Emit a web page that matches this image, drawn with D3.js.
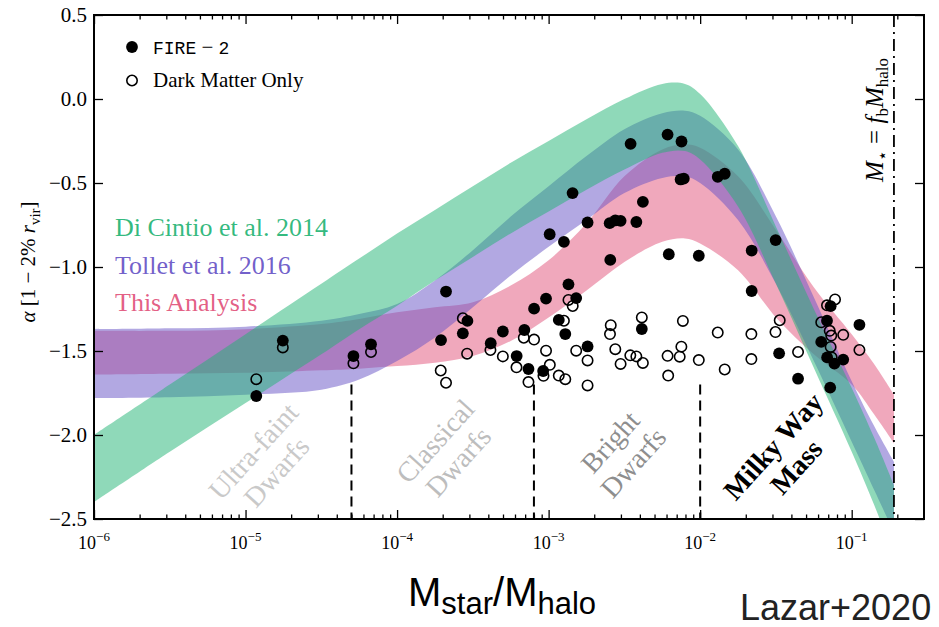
<!DOCTYPE html>
<html>
<head>
<meta charset="utf-8">
<script src="https://cdn.jsdelivr.net/npm/d3@7"></script>
<style>
  body { margin: 0; background: #fff; }
  svg { display: block; font-family: "Liberation Serif", "Times New Roman", serif; }
</style>
</head>
<body>
<svg id="chart" width="939" height="627"></svg>
<script>
// ---- axis settings -------------------------------------------------------
const xDomain = [1e-6, 0.3];
const yDomain = [-2.5, 0.5];
const xMajorTicks = [1e-6, 1e-5, 1e-4, 1e-3, 1e-2, 1e-1];
const xMajorExponents = ["−6", "−5", "−4", "−3", "−2", "−1"];
const yTickValues = [-2.5, -2.0, -1.5, -1.0, -0.5, 0.0, 0.5];
const yTickLabels = ["−2.5", "−2.0", "−1.5", "−1.0", "−0.5", "0.0", "0.5"];

// ---- model bands, sampled in log10(M*/Mhalo) ------------------------------
const bandLogX =     [-6.0, -5.5, -5.0, -4.5, -4.25, -4.0, -3.75, -3.5, -3.25, -3.0, -2.75, -2.5, -2.25, -2.1, -2.0, -1.75, -1.5, -1.25, -1.0, -0.85, -0.721];
const diCintioHigh = [-2.00, -1.70, -1.40, -1.10, -0.95, -0.80, -0.66, -0.52, -0.38, -0.25, -0.12, 0.00, 0.09, 0.09, 0.03, -0.28, -0.76, -1.25, -1.72, -2.02, -2.30];
const diCintioLow  = [-2.40, -2.10, -1.81, -1.52, -1.37, -1.23, -1.08, -0.94, -0.80, -0.67, -0.54, -0.42, -0.32, -0.31, -0.36, -0.64, -1.10, -1.60, -2.10, -2.42, -2.72];
const tolletHigh   = [-1.37, -1.365, -1.355, -1.32, -1.28, -1.22, -1.08, -0.90, -0.70, -0.52, -0.34, -0.18, -0.085, -0.07, -0.10, -0.30, -0.70, -1.18, -1.68, -1.95, -2.16];
const tolletLow    = [-1.78, -1.775, -1.76, -1.73, -1.67, -1.56, -1.42, -1.24, -1.05, -0.88, -0.72, -0.56, -0.47, -0.46, -0.50, -0.72, -1.10, -1.56, -2.04, -2.33, -2.58];
const thisHigh     = [-1.38, -1.38, -1.37, -1.34, -1.31, -1.27, -1.24, -1.21, -1.11, -0.96, -0.74, -0.46, -0.30, -0.27, -0.29, -0.46, -0.78, -1.12, -1.40, -1.58, -1.76];
const thisLow      = [-1.64, -1.635, -1.63, -1.615, -1.605, -1.59, -1.57, -1.53, -1.44, -1.30, -1.14, -0.97, -0.85, -0.83, -0.86, -1.02, -1.30, -1.52, -1.70, -1.88, -2.05];

const bandNames  = ["Di Cintio et al. 2014", "Tollet et al. 2016", "This Analysis"];
const bandColors = ["#1fb373", "#6551c5", "#e15179"];

// ---- simulated haloes: log10(M*/Mhalo) and inner slope alpha ----------------
const fireLogRatio = [-4.929, -4.754, -4.288, -4.172, -3.677, -3.710, -3.566, -3.536, -3.382, -3.302,
  -3.211, -3.160, -3.133, -3.096, -3.036, -3.017, -2.993, -2.933, -2.899, -2.890,
  -2.869, -2.818, -2.842, -2.743, -2.743, -2.593, -2.597, -2.560, -2.525, -2.421,
  -2.378, -2.385, -2.459, -2.215, -2.123, -2.129, -2.108, -2.207, -2.009, -1.884,
  -1.838, -1.660, -1.660, -1.502, -1.479, -1.354, -1.139, -1.163, -1.201, -1.162,
  -1.114, -1.056, -1.142, -0.949];
const fireAlpha = [-1.768, -1.438, -1.530, -1.460, -1.146, -1.435, -1.395, -1.321, -1.454, -1.384,
  -1.530, -1.375, -1.607, -1.248, -1.619, -1.188, -0.805, -1.315, -0.850, -1.399,
  -1.103, -1.185, -0.560, -1.473, -0.735, -0.958, -0.739, -0.723, -0.725, -0.732,
  -0.612, -1.369, -0.267, -0.212, -0.253, -0.479, -0.474, -0.924, -0.933, -0.463,
  -0.445, -0.902, -1.143, -0.840, -1.514, -1.665, -1.233, -1.320, -1.446, -1.538,
  -1.575, -1.551, -1.718, -1.344];

const dmoLogRatio = [-4.929, -4.754, -4.288, -4.172, -3.712, -3.677, -3.566, -3.538, -3.384, -3.302,
  -3.212, -3.164, -3.133, -3.096, -3.034, -3.017, -2.992, -2.933, -2.890, -2.899,
  -2.869, -2.841, -2.818, -2.743, -2.743, -2.590, -2.595, -2.560, -2.525, -2.461,
  -2.421, -2.378, -2.385, -2.215, -2.211, -2.135, -2.124, -2.114, -2.009, -1.884,
  -1.838, -1.662, -1.662, -1.503, -1.475, -1.354, -1.201, -1.163, -1.110, -1.145,
  -1.135, -1.139, -1.132, -1.056, -0.949];
const dmoAlpha = [-1.668, -1.479, -1.573, -1.506, -1.616, -1.689, -1.305, -1.516, -1.494, -1.532,
  -1.597, -1.421, -1.685, -1.432, -1.648, -1.498, -1.582, -1.646, -1.668, -1.320,
  -1.196, -1.232, -1.498, -1.556, -1.705, -1.346, -1.399, -1.489, -1.577, -1.526,
  -1.532, -1.571, -1.300, -1.529, -1.646, -1.534, -1.474, -1.321, -1.554, -1.390,
  -1.610, -1.399, -1.548, -1.387, -1.317, -1.506, -1.329, -1.228, -1.193, -1.380,
  -1.408, -1.476, -1.538, -1.404, -1.494];

// ---- mass regimes ---------------------------------------------------------
const regimeEdges = [5e-5, 8e-4, 1e-2];
const regimeEdgeTop = -1.7;
const baryonFraction = 0.19;
const regimeNames = [["Ultra-faint", "Dwarfs"], ["Classical", "Dwarfs"], ["Bright", "Dwarfs"], ["Milky Way", "Mass"]];
const regimeLogX = [-4.87, -3.67, -2.515, -1.44];
const regimeAlpha = [-2.16, -2.10, -2.105, -2.13];
const regimeColors = ["#c9c9c9", "#bdbdbd", "#8e8e8e", "#000000"];

// ---- layout ---------------------------------------------------------------
const SERIF = '"Liberation Serif", "Times New Roman", serif';
const SANS = '"Liberation Sans", Arial, sans-serif';
const MONO = '"Liberation Mono", "DejaVu Sans Mono", monospace';

const plot = { left: 94, right: 924, top: 15, bottom: 519 };
const svg = d3.select("#chart");

const x = d3.scaleLog().domain(xDomain).range([plot.left, plot.right]);
const y = d3.scaleLinear().domain(yDomain).range([plot.bottom, plot.top]);

svg.append("defs").append("clipPath").attr("id", "plotClip")
  .append("rect")
  .attr("x", plot.left).attr("y", plot.top)
  .attr("width", plot.right - plot.left).attr("height", plot.bottom - plot.top);

// bands: drawn back to front (this analysis, Tollet, Di Cintio)
const bandSeries = [
  { hi: diCintioHigh, lo: diCintioLow, color: bandColors[0] },
  { hi: tolletHigh, lo: tolletLow, color: bandColors[1] },
  { hi: thisHigh, lo: thisLow, color: bandColors[2] }
];
const area = d3.area()
  .x(d => x(Math.pow(10, d.lx)))
  .y0(d => y(d.lo))
  .y1(d => y(d.hi))
  .curve(d3.curveCatmullRom.alpha(0.5));

const bandLayer = svg.append("g").attr("clip-path", "url(#plotClip)");
[2, 1, 0].forEach(i => {
  const s = bandSeries[i];
  const pts = bandLogX.map((lx, k) => ({ lx, hi: s.hi[k], lo: s.lo[k] }));
  bandLayer.append("path")
    .datum(pts)
    .attr("d", area)
    .attr("fill", s.color)
    .attr("fill-opacity", 0.5);
});

// regime separators
svg.append("g").selectAll("line").data(regimeEdges).join("line")
  .attr("x1", d => x(d)).attr("x2", d => x(d))
  .attr("y1", y(regimeEdgeTop)).attr("y2", y(yDomain[0]))
  .attr("stroke", "#000").attr("stroke-width", 2)
  .attr("stroke-dasharray", "10,6");

svg.append("line")
  .attr("x1", x(baryonFraction)).attr("x2", x(baryonFraction))
  .attr("y1", y(yDomain[1])).attr("y2", y(yDomain[0]))
  .attr("stroke", "#000").attr("stroke-width", 1.8)
  .attr("stroke-dasharray", "12,5,2,5");

// regime labels
const regimeG = svg.append("g");
regimeNames.forEach((lines, i) => {
  const g = regimeG.append("g")
    .attr("transform", `translate(${x(Math.pow(10, regimeLogX[i]))},${y(regimeAlpha[i])}) rotate(-48)`);
  lines.forEach((t, j) => {
    g.append("text")
      .attr("x", 0).attr("y", (j - 0.5) * 31 + 9)
      .attr("text-anchor", "middle")
      .style("font-family", SERIF)
      .attr("font-size", 28)
      .attr("font-weight", i === 3 ? "bold" : "normal")
      .attr("fill", regimeColors[i])
      .text(t);
  });
});

// dark matter only (open) and FIRE-2 (filled) points
svg.append("g").selectAll("circle").data(dmoLogRatio).join("circle")
  .attr("cx", d => x(Math.pow(10, d)))
  .attr("cy", (d, i) => y(dmoAlpha[i]))
  .attr("r", 5.2)
  .attr("fill", "none")
  .attr("stroke", "#000").attr("stroke-width", 1.6);

svg.append("g").selectAll("circle").data(fireLogRatio).join("circle")
  .attr("cx", d => x(Math.pow(10, d)))
  .attr("cy", (d, i) => y(fireAlpha[i]))
  .attr("r", 5.9)
  .attr("fill", "#000");

// ---- axes -----------------------------------------------------------------
const minorTicks = [];
for (let e = -6; e <= -1; e++) {
  for (let m = 2; m <= 9; m++) {
    const v = m * Math.pow(10, e);
    if (v <= xDomain[1]) minorTicks.push(v);
  }
}

function styleAxis(g) {
  g.select(".domain").remove();
  g.selectAll(".tick line").attr("stroke", "#000").attr("stroke-width", 1.3);
  g.selectAll(".tick text").remove();
}

svg.append("g").attr("transform", `translate(0,${plot.bottom})`)
  .call(d3.axisBottom(x).tickValues(xMajorTicks).tickSize(-9).tickFormat(""))
  .call(styleAxis);
svg.append("g").attr("transform", `translate(0,${plot.bottom})`)
  .call(d3.axisBottom(x).tickValues(minorTicks).tickSize(-4.5).tickFormat(""))
  .call(styleAxis);
svg.append("g").attr("transform", `translate(0,${plot.top})`)
  .call(d3.axisTop(x).tickValues(xMajorTicks).tickSize(-9).tickFormat(""))
  .call(styleAxis);
svg.append("g").attr("transform", `translate(0,${plot.top})`)
  .call(d3.axisTop(x).tickValues(minorTicks).tickSize(-4.5).tickFormat(""))
  .call(styleAxis);
svg.append("g").attr("transform", `translate(${plot.left},0)`)
  .call(d3.axisLeft(y).tickValues(yTickValues).tickSize(-9).tickFormat(""))
  .call(styleAxis);
svg.append("g").attr("transform", `translate(${plot.right},0)`)
  .call(d3.axisRight(y).tickValues(yTickValues).tickSize(-9).tickFormat(""))
  .call(styleAxis);

// frame
svg.append("rect")
  .attr("x", plot.left).attr("y", plot.top)
  .attr("width", plot.right - plot.left).attr("height", plot.bottom - plot.top)
  .attr("fill", "none").attr("stroke", "#000").attr("stroke-width", 2);

// x tick labels 10^n
const xl = svg.append("g");
xMajorTicks.forEach((v, i) => {
  const t = xl.append("text")
    .attr("x", x(v)).attr("y", plot.bottom + 30)
    .attr("text-anchor", "middle")
    .style("font-family", SERIF)
    .attr("font-size", 18);
  t.append("tspan").text("10");
  t.append("tspan").attr("font-size", 13).attr("dy", -8).text(xMajorExponents[i]);
});

// y tick labels
svg.append("g").selectAll("text").data(yTickValues).join("text")
  .attr("x", plot.left - 7)
  .attr("y", d => y(d) + 7)
  .attr("text-anchor", "end")
  .style("font-family", SERIF)
  .attr("font-size", 21)
  .text((d, i) => yTickLabels[i]);

// y axis title
const yTitle = svg.append("text")
  .attr("transform", `translate(35,262) rotate(-90)`)
  .attr("text-anchor", "middle")
  .style("font-family", SERIF)
  .attr("font-size", 21);
yTitle.append("tspan").attr("font-style", "italic").text("α");
yTitle.append("tspan").text(" [1 − 2% ");
yTitle.append("tspan").attr("font-style", "italic").text("r");
yTitle.append("tspan").attr("font-size", 15).attr("dy", 5).text("vir");
yTitle.append("tspan").attr("dy", -5).text("]");

// baryon fraction label
const fbLabel = svg.append("text")
  .attr("transform", `translate(${x(baryonFraction) - 11},120) rotate(-90)`)
  .attr("text-anchor", "middle")
  .style("font-family", SERIF)
  .attr("font-size", 25);
fbLabel.append("tspan").attr("font-style", "italic").text("M");
fbLabel.append("tspan").attr("font-size", 17).attr("dy", 5).text("⋆");
fbLabel.append("tspan").attr("dy", -5).text(" = ");
fbLabel.append("tspan").attr("font-style", "italic").text("f");
fbLabel.append("tspan").attr("font-size", 17).attr("dy", 5).text("b");
fbLabel.append("tspan").attr("font-style", "italic").attr("dy", -5).text("M");
fbLabel.append("tspan").attr("font-size", 17).attr("dy", 5).text("halo");

// band legend text
bandNames.forEach((name, i) => {
  svg.append("text")
    .attr("x", 115).attr("y", 236 + i * 37.5)
    .style("font-family", SERIF)
    .attr("font-size", 26)
    .attr("fill", bandColors[i])
    .attr("fill-opacity", 0.92)
    .text(name);
});

// marker legend
const legend = svg.append("g");
legend.append("circle").attr("cx", 132).attr("cy", 47).attr("r", 5.9).attr("fill", "#000");
legend.append("circle").attr("cx", 132).attr("cy", 80.5).attr("r", 5.2)
  .attr("fill", "none").attr("stroke", "#000").attr("stroke-width", 1.6);
const fireText = legend.append("text").attr("x", 153).attr("y", 54)
  .style("font-family", SERIF).attr("font-size", 21);
fireText.append("tspan").style("font-family", MONO).attr("font-size", 18).text("FIRE");
fireText.append("tspan").text(" − ");
fireText.append("tspan").style("font-family", MONO).attr("font-size", 18).text("2");
legend.append("text").attr("x", 153).attr("y", 87)
  .style("font-family", SERIF).attr("font-size", 21).text("Dark Matter Only");

// x axis title and citation
const xTitle = svg.append("text")
  .attr("x", 408).attr("y", 606)
  .style("font-family", SANS)
  .attr("font-size", 40);
xTitle.append("tspan").text("M");
xTitle.append("tspan").attr("font-size", 31).attr("dy", 8).text("star");
xTitle.append("tspan").attr("dy", -8).text("/M");
xTitle.append("tspan").attr("font-size", 31).attr("dy", 8).text("halo");

svg.append("text")
  .attr("x", 740).attr("y", 620)
  .style("font-family", SANS)
  .attr("font-size", 36)
  .attr("fill", "#222")
  .text("Lazar+2020");
</script>
</body>
</html>
